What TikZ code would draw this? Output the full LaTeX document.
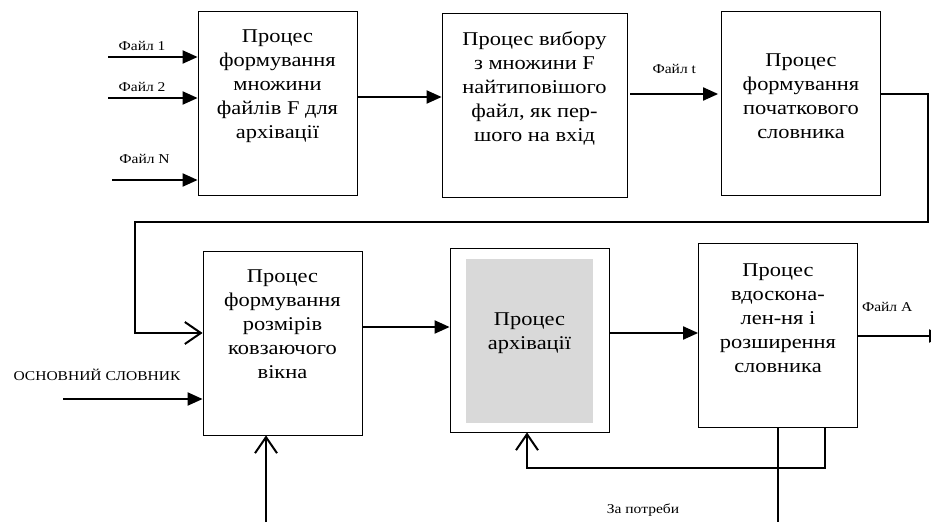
\documentclass[tikz,border=0pt]{standalone}
\usepackage{fontspec}
\setmainfont{Liberation Serif}[FakeStretch=1.15]
\usepackage{xcolor}
\usepackage{tikz}
\usetikzlibrary{positioning,arrows.meta}
\definecolor{archgray}{HTML}{D9D9D9}
\tikzset{%
  every process/.style={
    draw,
    line width=0.8pt,
    minimum width=159pt,
    minimum height=184pt,
    inner sep=0pt
  },
  process wide/.style={
    minimum width=185pt
  },
  process text/.style={
    align=center,
    inner sep=0pt,
    font=\fontsize{19.5}{24}\selectfont
  },
  flow label/.style={
    inner sep=0pt,
    font=\fontsize{13.5}{16}\selectfont
  },
  flow/.style={
    line width=2pt,
    -{Triangle[length=15pt,width=13pt]}
  },
  back/.style={
    line width=2pt,
    -{Straight Barb[length=16pt,width=22pt]}
  },
}

\begin{document}
\begin{tikzpicture}[x=1pt, y=-1pt]
        \useasboundingbox (0,0) rectangle (931,522);
        \clip (0,0) rectangle (931,522);

        % top row
        \node [every process] (form) at (277.5,103.5) {};
        \node [every process, process wide] (choose) at (534.5,105.5) {};
        \node [every process] (init) at (801,103) {};

        % bottom row
        \node [every process] (window) at (282.5,343) {};
        \node [every process] (arch) at (529.5,340) {};
        \node [fill=archgray, minimum width=127pt, minimum height=164pt] (arch-in) at (529.5,341) {};
        \node [every process] (refine) at (778,335.5) {};

        \node [process text] (form-t) at (277.5,86)
          {Процес\\формування\\множини\\файлів F для\\архівації};
        \node [process text] (choose-t) at (534.5,88)
          {Процес вибору\\з множини F\\найтиповішого\\файл, як пер-\\шого на вхід};
        \node [process text] (init-t) at (801,96)
          {Процес\\формування\\початкового\\словника};
        \node [process text] (window-t) at (282.5,324)
          {Процес\\формування\\розмірів\\ковзаючого\\вікна};
        \node [process text] (arch-t) at (529.5,333) {Процес\\архівації};
        \node [process text] (refine-t) at (778,318)
          {Процес\\вдоскона-\\лен-ня і\\розширення\\словника};

        % input files
        \foreach \l/\y/\x/\s in {1/57/108/5pt, 2/98/108/5pt, N/180/112/15pt} {
          \coordinate (file-\l) at (\x,\y);
          \draw [flow] (file-\l) -- (file-\l -| form.west)
            node [flow label, above=\s, pos=0.38] {Файл \l};
        }

        \draw [flow] (form.east |- 0,97) -- (choose.west |- 0,97);
        \draw [flow] ([xshift=3pt]choose.east |- 0,94) -- ([xshift=-3pt]init.west |- 0,94)
          node [flow label, above=19pt, midway] {Файл t};

        % loop to the second row
        \coordinate (loop-r) at (928,222);
        \coordinate (loop-l) at (135,333);
        \draw [back] (init.east |- 0,94) -| (loop-r) -| (loop-l) -- (loop-l -| window.west);

        \coordinate (dict) at (63,399);
        \node [flow label] (dict-t) at (97,375) {ОСНОВНИЙ СЛОВНИК};
        \draw [flow] (dict) -- (dict -| window.west);

        \coordinate (win-src) at (266,522);
        \draw [back] (win-src) -- (win-src |- window.south);

        \draw [flow] (window.east |- 0,327) -- (arch.west |- 0,327);
        \draw [flow] (arch.east |- 0,333) -- (refine.west |- 0,333);

        \coordinate (file-a) at (944,336);
        \draw [flow] (refine.east |- file-a) -- (file-a)
          node [flow label, above=23pt, pos=0.34] {Файл A};

        % feedback
        \coordinate (fb) at (527,468);
        \draw [back] (refine.south -| 825,0) |- (fb) -- (fb |- arch.south);
        \coordinate (out-b) at (778,522);
        \draw [line width=2pt] (refine.south) -- (out-b);
        \node [flow label] (need) at (643,510) {За потреби};
\end{tikzpicture}
\end{document}
